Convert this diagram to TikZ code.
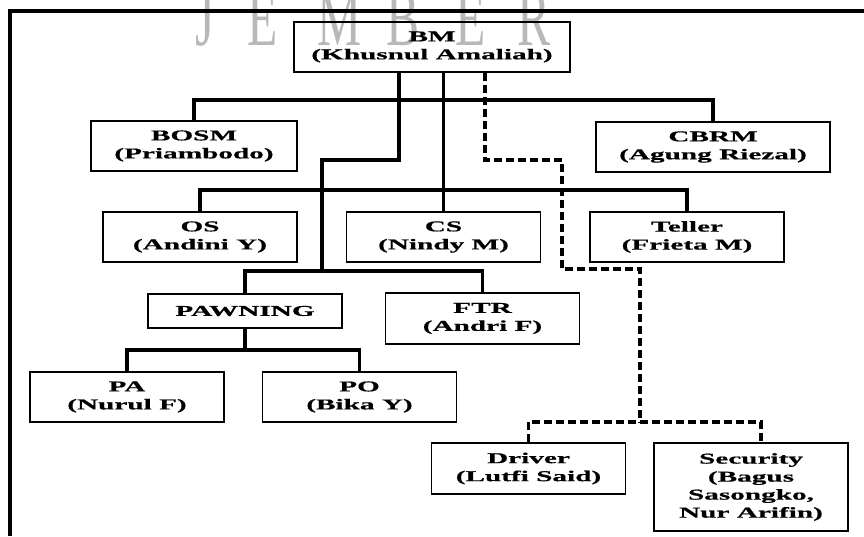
\documentclass[tikz,border=0pt]{standalone}
\usepackage{fontspec}
\setmainfont{Liberation Serif}[FakeStretch=1.95, BoldFeatures={FakeBold=0.6}]
\newfontfamily\wmfont{Liberation Serif}[FakeStretch=0.62]
\usetikzlibrary{positioning}

\tikzset{
  post/.style={draw, line width=1.7pt, align=center, inner sep=0pt,
    minimum width=194pt, minimum height=50pt,
    font=\fontsize{15}{18}\selectfont\bfseries},
  link/.style={line width=3.2pt},
  dlink/.style={line width=3.2pt, dash pattern=on 8pt off 4pt},
  wmark/.style={text=black!28, anchor=base, inner sep=0pt,
    font=\wmfont\fontsize{80}{80}\selectfont}
}

\begin{document}
\begin{tikzpicture}[x=1pt, y=-1pt, node distance=243.5pt]
 \useasboundingbox (0,0) rectangle (864,536);
 % watermark
 \foreach \ch/\xx in {J/205, E/263, M/340, B/403, E/471, R/534}
   \node[wmark] (wm\xx) at (\xx,45) {\ch};
 \draw[link] (864,11) -- (10,11) -- (10,536);

 \node[post, minimum width=276pt] (BM) at (432,47) {BM\\(Khusnul Amaliah)};
 \node[post, minimum width=206pt] (BOSM) at (194,146) {BOSM\\(Priambodo)};
 \node[post, minimum width=234pt] (CBRM) at (713,147) {CBRM\\(Agung Riezal)};
 \node[post] (OS) at (200,237) {OS\\(Andini Y)};
 \node[post] (CS) [right of=OS] {CS\\(Nindy M)};
 \node[post] (Teller) [right of=CS] {Teller\\(Frieta M)};
 \node[post, minimum height=34pt] (PAWNING) at (245,311) {PAWNING};
 \node[post, minimum height=51pt] (FTR) at (482.5,318.5) {FTR\\(Andri F)};
 \node[post] (PA) at (127,397) {PA\\(Nurul F)};
 \node[post] (PO) [right of=PA, node distance=232.5pt] {PO\\(Bika Y)};
 \node[post, minimum height=51pt] (Driver) at (528.5,468.5) {Driver\\(Lutfi Said)};
 \node[post, minimum height=88pt] (Security) at (751,487) {Security\\(Bagus\\Sasongko,\\Nur Arifin)};

 \coordinate (bar1) at (399,100);
 \coordinate (bar2) at (322,190);
 \coordinate (jog) at (399,160);
 \coordinate (bar3) at (322,271);
 \coordinate (bar4) at (245,350);
 \coordinate (d1) at (485,160);
 \coordinate (d2) at (562,269);
 \coordinate (d3) at (640,422);

 \draw[link] (BM.south -| jog) -- (jog) -| (bar3);
 \draw[link] (BOSM.north) |- (bar1) -| (CBRM.north);
 \draw[link] (BM.south -| CS.north) -- (CS.north);
 \draw[link] (OS.north) |- (bar2) -| (Teller.north);
 \draw[link] (PAWNING.north) |- (bar3) -| (FTR.north);
 \draw[link] (PAWNING.south) -- (bar4);
 \draw[link] (PA.north) |- (bar4) -| (PO.north);
 \draw[dlink] (BM.south -| d1) -- (d1) -| (d2) -| (d3);
 \draw[dlink] (Driver.north) |- (d3) -| ([xshift=10pt]Security.north);
\end{tikzpicture}
\end{document}
